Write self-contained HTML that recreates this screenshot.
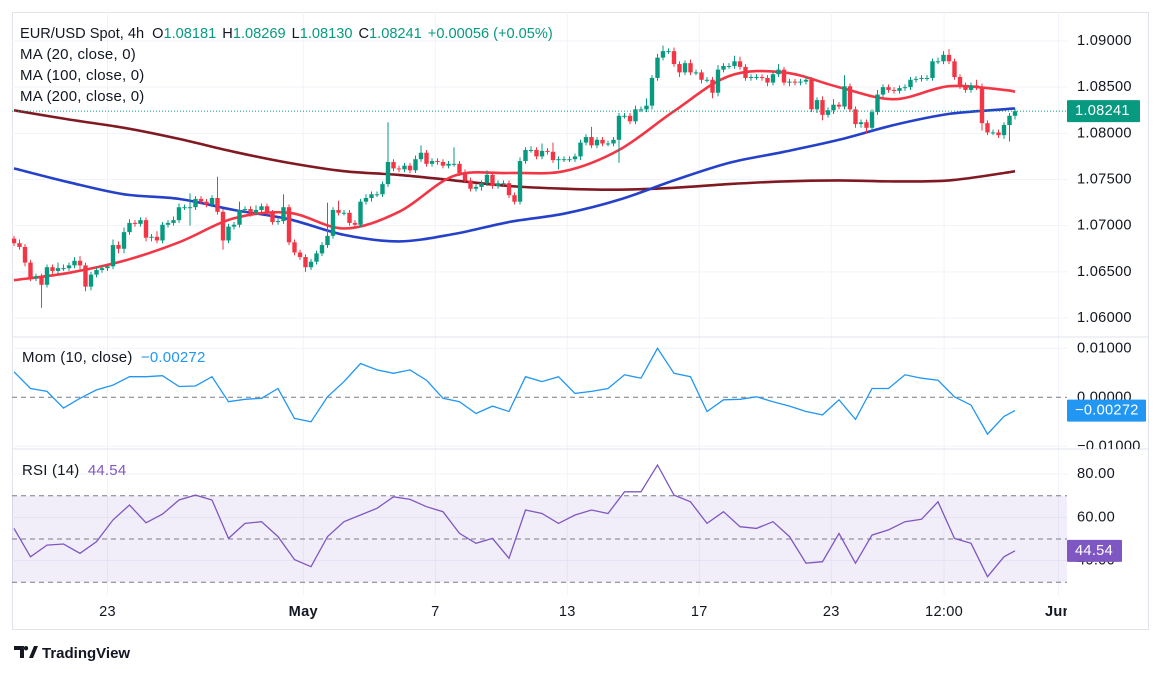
<!DOCTYPE html>
<html><head><meta charset="utf-8"><style>
html,body{margin:0;padding:0;background:#fff;}
svg{display:block;font-family:"Liberation Sans",sans-serif;}
</style></head><body>
<svg id="chart" width="1162" height="674" viewBox="0 0 1162 674" xmlns="http://www.w3.org/2000/svg">
<defs>
<clipPath id="cMain"><rect x="12" y="12" width="1055" height="325"/></clipPath>
<clipPath id="cMom"><rect x="12" y="337" width="1137" height="112"/></clipPath>
<clipPath id="cRsi"><rect x="12" y="449" width="1137" height="146"/></clipPath>
<clipPath id="cTime"><rect x="12" y="595" width="1055" height="35"/></clipPath>
</defs>
<rect x="12.5" y="12.5" width="1136" height="617" fill="#fff" stroke="#e0e3eb"/>
<g id="grid"></g>
<g id="rsiBand"></g>
<line x1="12" y1="337" x2="1148" y2="337" stroke="#e0e3eb"/>
<line x1="12" y1="449" x2="1148" y2="449" stroke="#e0e3eb"/>
<g id="mas" clip-path="url(#cMain)"></g>
<g id="candles" clip-path="url(#cMain)"></g>
<g id="momG" clip-path="url(#cMom)"></g>
<g id="rsiG" clip-path="url(#cRsi)"></g>
<g id="axes"></g>
<g id="timeAx" clip-path="url(#cTime)"></g>

<g font-size="15" fill="#131722" letter-spacing="0.2">
<text x="20" y="38" font-size="14.6" letter-spacing="0">EUR/USD Spot, 4h <tspan dx="4">O</tspan><tspan fill="#089981">1.08181</tspan><tspan dx="6">H</tspan><tspan fill="#089981">1.08269</tspan><tspan dx="6">L</tspan><tspan fill="#089981">1.08130</tspan><tspan dx="6">C</tspan><tspan fill="#089981">1.08241</tspan><tspan dx="6" fill="#089981">+0.00056 (+0.05%)</tspan></text>
<text x="20" y="59">MA (20, close, 0)</text>
<text x="20" y="80">MA (100, close, 0)</text>
<text x="20" y="101">MA (200, close, 0)</text>
<text x="22" y="362">Mom (10, close) <tspan dx="4" fill="#2196f3">−0.00272</tspan></text>
<text x="22" y="475">RSI (14) <tspan dx="4" fill="#7e57c2">44.54</tspan></text>
</g>

<g>
<path d="M14 646h10v12h-4v-8h-6z M26 646a2.2 2.2 0 1 0 0.01 0z" fill="#131722"/>
<path d="M29 658l5-12h4l-5 12z" fill="#131722"/>
<text x="42" y="658" font-size="15" font-weight="bold" fill="#131722">TradingView</text>
</g>
</svg>
<script>
const closes=[1.0681,1.0677,1.0660,1.0643,1.0645,1.0636,1.0655,1.0651,1.0654,1.0654,1.0657,1.0662,1.0657,1.0634,1.0647,1.0652,1.0654,1.0656,1.0679,1.0675,1.0693,1.0703,1.0702,1.0706,1.0687,1.0688,1.0684,1.0701,1.0703,1.0706,1.0720,1.0720,1.0720,1.0729,1.0726,1.0723,1.0730,1.0715,1.0684,1.0699,1.0701,1.0717,1.0718,1.0714,1.0717,1.0721,1.0714,1.0704,1.0705,1.0720,1.0682,1.0671,1.0666,1.0655,1.0661,1.0670,1.0679,1.0689,1.0717,1.0714,1.0714,1.0703,
1.0701,1.0726,1.0730,1.0734,1.0734,1.0745,1.0769,1.0762,1.0761,1.0765,1.0760,1.0772,1.0779,1.0767,1.0770,1.0769,1.0765,1.0767,1.0767,1.0757,1.0749,1.0740,1.0742,1.0746,1.0755,1.0743,1.0746,1.0746,1.0733,1.0726,1.0770,1.0782,1.0782,1.0775,1.0781,1.0780,1.0771,1.0772,1.0772,1.0772,1.0775,1.0790,1.0796,1.0787,1.0793,1.0789,1.0789,1.0793,1.0819,1.0819,1.0813,1.0826,1.0826,1.0830,1.0860,1.0882,1.0889,1.0889,1.0875,1.0866,
1.0876,1.0866,1.0866,1.0858,1.0858,1.0844,1.0869,1.0873,1.0873,1.0878,1.0872,1.0860,1.0861,1.0861,1.0860,1.0855,1.0864,1.0869,1.0855,1.0856,1.0855,1.0856,1.0858,1.0826,1.0836,1.0820,1.0825,1.0831,1.0829,1.0851,1.0826,1.0810,1.0812,1.0806,1.0823,1.0842,1.0850,1.0847,1.0846,1.0849,1.0850,1.0858,1.0859,1.0860,1.0860,1.0878,1.0878,1.0885,1.0878,1.0861,1.0851,1.0847,1.0852,1.0850,1.0811,1.0801,1.0801,1.0798,1.0809,1.0819,1.0824];
const firstOpen=1.0686;
const wickUpPips=[3,4,3,3,3,3,3,3,6,4,3,4,5,3,3,3,3,3,6,4,5,4,3,3,3,3,6,3,3,4,4,3,15,3,3,3,3,23,3,3,3,9,3,3,5,3,3,3,3,14,3,3,3,3,3,3,3,36,3,10,3,3,
3,3,4,3,3,3,43,3,3,3,3,4,8,3,3,3,3,3,18,3,4,3,3,3,5,3,3,3,3,3,4,3,4,3,8,3,10,3,3,3,3,3,3,11,3,3,3,3,3,3,3,4,3,8,3,4,6,3,4,3,
3,4,3,3,3,3,5,3,3,6,5,3,3,3,3,3,3,6,3,3,3,3,4,3,3,4,3,6,3,12,3,3,3,3,3,5,3,3,3,3,3,3,3,3,3,3,4,4,6,3,3,4,3,6,4,3,3,3,3,3,3];
const wickDnPips=[3,3,4,3,3,25,3,3,3,3,3,3,4,5,4,3,3,3,3,5,5,3,3,3,4,4,3,3,3,3,3,3,20,3,3,3,3,3,10,3,3,3,3,4,3,3,3,3,3,3,3,3,3,5,3,3,3,3,3,3,3,3,
3,3,3,4,3,3,3,3,3,3,3,3,3,3,3,3,3,3,3,3,3,3,3,4,3,3,3,3,3,3,3,3,3,3,3,3,3,10,3,3,3,4,3,3,3,3,3,3,25,3,3,3,3,3,4,3,3,3,3,5,
3,3,3,4,3,6,4,3,3,3,3,3,3,3,3,4,3,3,3,4,3,3,3,3,4,6,3,4,3,3,3,4,4,6,3,3,3,3,3,3,3,3,3,3,3,3,3,3,3,3,3,3,3,3,8,3,3,3,4,18,4];
const maBars=[0,10,20,30,40,50,60,70,80,90,100,110,120,130,140,150,160,170,180,182];
const ma20=[1.0641,1.0649,1.0662,1.0682,1.0708,1.0714,1.0697,1.0715,1.0754,1.0757,1.0759,1.0782,1.0824,1.0862,1.0866,1.0850,1.0837,1.0851,1.0847,1.0845];
const ma100=[1.0762,1.0747,1.0734,1.0729,1.0717,1.0707,1.0690,1.0683,1.0691,1.0704,1.0713,1.0728,1.0749,1.0768,1.0780,1.0793,1.0809,1.0821,1.0826,1.0827];
const ma200=[1.0825,1.0815,1.0806,1.0794,1.0780,1.0768,1.0759,1.0755,1.0749,1.0743,1.0740,1.0739,1.0741,1.0745,1.0748,1.0749,1.0748,1.0749,1.0757,1.0759];
const indStep=3;
const momentum=[0.0052,0.0018,0.0012,-0.0022,-0.0002,0.0015,0.0025,0.0042,0.0042,0.0044,0.0022,0.0023,0.0042,-0.0009,-0.0004,-0.0002,0.0018,-0.0043,-0.0050,0.0001,0.0032,0.0069,0.0056,0.0049,0.0056,0.0035,-0.0002,-0.0009,-0.0033,-0.0018,-0.0029,0.0042,
0.0032,0.0042,0.0008,0.0012,0.0018,0.0046,0.0039,0.0100,0.0049,0.0042,-0.0029,-0.0005,-0.0004,0.0001,-0.0009,-0.0018,-0.0029,-0.0036,-0.0005,-0.0045,0.0018,0.0018,0.0046,0.0039,0.0035,0.0001,-0.0016,-0.0075,-0.0039,-0.00272];
const rsi=[54.9,41.8,47.2,47.7,43.4,48.8,58.8,65.7,57.5,61.5,68.0,70.3,68.0,50.3,57.2,58.0,51.1,40.5,37.2,51.1,58.0,61.1,64.2,69.5,68.3,64.9,62.6,52.6,48.0,50.3,41.1,63.4,
61.8,57.2,61.1,63.4,61.8,71.8,71.8,84.2,70.3,67.2,57.2,62.6,55.7,54.9,58.0,51.1,38.8,39.5,52.6,38.8,51.8,54.2,58.0,59.1,67.2,50.3,48.0,32.6,41.8,44.54];
const priceTicks=["1.09000","1.08500","1.08000","1.07500","1.07000","1.06500","1.06000"];
const priceTickVals=[1.09,1.085,1.08,1.075,1.07,1.065,1.06];
const momTicks=["0.01000","0.00000","−0.01000"];
const momTickVals=[0.01,0,-0.01];
const rsiTicks=["80.00","60.00","40.00"];
const rsiTickVals=[80,60,40];
const rsiLevels=[70,50,30];
const timeLabels=["23","May","7","13","17","23","12:00","Jun"];
const timeLabelBars=[17,52.6,76.6,100.6,124.6,148.6,169.1,189.9];
const lastPrice=1.08241, lastMom=-0.00272, lastRsi=44.54;

const NS="http://www.w3.org/2000/svg";
const xB=i=>14+5.5*i;
const yP=p=>41+(1.09-p)*9234;
const yM=v=>397.3-v*4900;
const yR=r=>539-(r-50)*2.165;
function mk(tag,attrs,parent){const e=document.createElementNS(NS,tag);for(const k in attrs)e.setAttribute(k,attrs[k]);parent.appendChild(e);return e;}
function smooth(pts){let d='M'+pts[0][0].toFixed(1)+' '+pts[0][1].toFixed(1);
for(let i=0;i<pts.length-1;i++){const p0=pts[i-1]||pts[i],p1=pts[i],p2=pts[i+1],p3=pts[i+2]||p2;
const c1=[p1[0]+(p2[0]-p0[0])/6,p1[1]+(p2[1]-p0[1])/6],c2=[p2[0]-(p3[0]-p1[0])/6,p2[1]-(p3[1]-p1[1])/6];
d+=' C'+c1.map(v=>v.toFixed(1)).join(' ')+' '+c2.map(v=>v.toFixed(1)).join(' ')+' '+p2[0].toFixed(1)+' '+p2[1].toFixed(1);}
return d;}
const grid=document.getElementById('grid');
timeLabelBars.forEach((b,i)=>{const l=mk('line',{x1:xB(b),x2:xB(b),y1:12,y2:595,stroke:'#f0f3fa'},grid);

});
priceTickVals.forEach(v=>{const l=mk('line',{x1:12,x2:1067,y1:yP(v),y2:yP(v),stroke:'#f0f3fa'},grid);

});
[0.01,-0.01].forEach(v=>{const l=mk('line',{x1:12,x2:1067,y1:yM(v),y2:yM(v),stroke:'#f0f3fa'},grid);

});
rsiTickVals.forEach(v=>{const l=mk('line',{x1:12,x2:1067,y1:yR(v),y2:yR(v),stroke:'#f0f3fa'},grid);

});
const band=document.getElementById('rsiBand');
const br=mk('rect',{x:12,y:yR(rsiLevels[0]),width:1055,height:yR(rsiLevels[2])-yR(rsiLevels[0]),fill:'#7e57c2','fill-opacity':0.1},band);


rsiLevels.forEach(v=>{const l=mk('line',{x1:12,x2:1067,y1:yR(v),y2:yR(v),stroke:'#787b86','stroke-dasharray':'5,4'},band);

});
const mas=document.getElementById('mas');
function maPath(arr,color,name){const d=smooth(arr.map((v,i)=>[xB(maBars[i]),yP(v)]));
const p=mk('path',{d:d,fill:'none',stroke:color,'stroke-width':2.6,'stroke-linejoin':'round'},mas);

}
maPath(ma200,'#801922','ma200-line');
maPath(ma100,'#2541c9','ma100-line');
maPath(ma20,'#f23645','ma20-line');
const pl=mk('line',{x1:12,x2:1067,y1:yP(lastPrice),y2:yP(lastPrice),stroke:'#089981','stroke-dasharray':'1,2'},mas);


const cg=document.getElementById('candles');
closes.forEach((c,i)=>{const o=i?closes[i-1]:firstOpen;const up=c>=o;const col=up?'#089981':'#f23645';
const hi=Math.max(o,c)+wickUpPips[i]*0.0001, lo=Math.min(o,c)-wickDnPips[i]*0.0001;const x=xB(i);
const g=mk('g',{},cg);


mk('line',{x1:x,x2:x,y1:yP(hi),y2:yP(lo),stroke:col,'stroke-width':1},g);
const t=yP(Math.max(o,c)),b=yP(Math.min(o,c));
mk('rect',{x:x-2.2,y:t,width:4.4,height:Math.max(1,b-t),fill:col},g);});
const mg=document.getElementById('momG');
const z=mk('line',{x1:12,x2:1067,y1:yM(0),y2:yM(0),stroke:'#787b86','stroke-dasharray':'5,4'},mg);


const mb=i=>i===momentum.length-1?closes.length-1:i*indStep;
const mp=mk('path',{d:momentum.map((v,i)=>(i?'L':'M')+xB(mb(i)).toFixed(1)+' '+yM(v).toFixed(1)).join(' '),fill:'none',stroke:'#2196f3','stroke-width':1.3},mg);


const rg=document.getElementById('rsiG');
const rp=mk('path',{d:rsi.map((v,i)=>(i?'L':'M')+xB(mb(i)).toFixed(1)+' '+yR(v).toFixed(1)).join(' '),fill:'none',stroke:'#7e57c2','stroke-width':1.3},rg);


const ax=document.getElementById('axes');
function lab(txt,x,y,name,parent,extra){const t=mk('text',Object.assign({x:x,y:y,'font-size':14.6,fill:'#131722','dominant-baseline':'central','letter-spacing':0.3},extra||{}),parent);t.textContent=txt;

return t;}
priceTicks.forEach((s,i)=>lab(s,1077,yP(priceTickVals[i]),'price-tick',ax));
const mAx=mk('g',{'clip-path':'url(#cMom)'},ax);
momTicks.forEach((s,i)=>lab(s,1077,yM(momTickVals[i]),'mom-tick',mAx));
const rAx=mk('g',{'clip-path':'url(#cRsi)'},ax);
rsiTicks.forEach((s,i)=>lab(s,1077,yR(rsiTickVals[i]),'rsi-tick',rAx));
function box(txt,y,col,name,w){const g=mk('g',{},ax);


mk('rect',{x:1067,y:y-11,width:w,height:22,fill:col,rx:1},g);
const t=mk('text',{x:1075,y:y,'font-size':14.6,fill:'#fff','dominant-baseline':'central','letter-spacing':0.3},g);t.textContent=txt;}
box('1.08241',yP(lastPrice),'#089981','last-price-label',73);
box('−0.00272',yM(lastMom),'#2196f3','last-mom-label',79);
box('44.54',yR(lastRsi),'#7e57c2','last-rsi-label',55);
const ta=document.getElementById('timeAx');
timeLabels.forEach((s,i)=>lab(s,xB(timeLabelBars[i]),612,'time-tick',ta,{'text-anchor':'middle','font-weight':(s==='May'||s==='Jun')?'bold':'normal'}));
</script>
</body></html>
